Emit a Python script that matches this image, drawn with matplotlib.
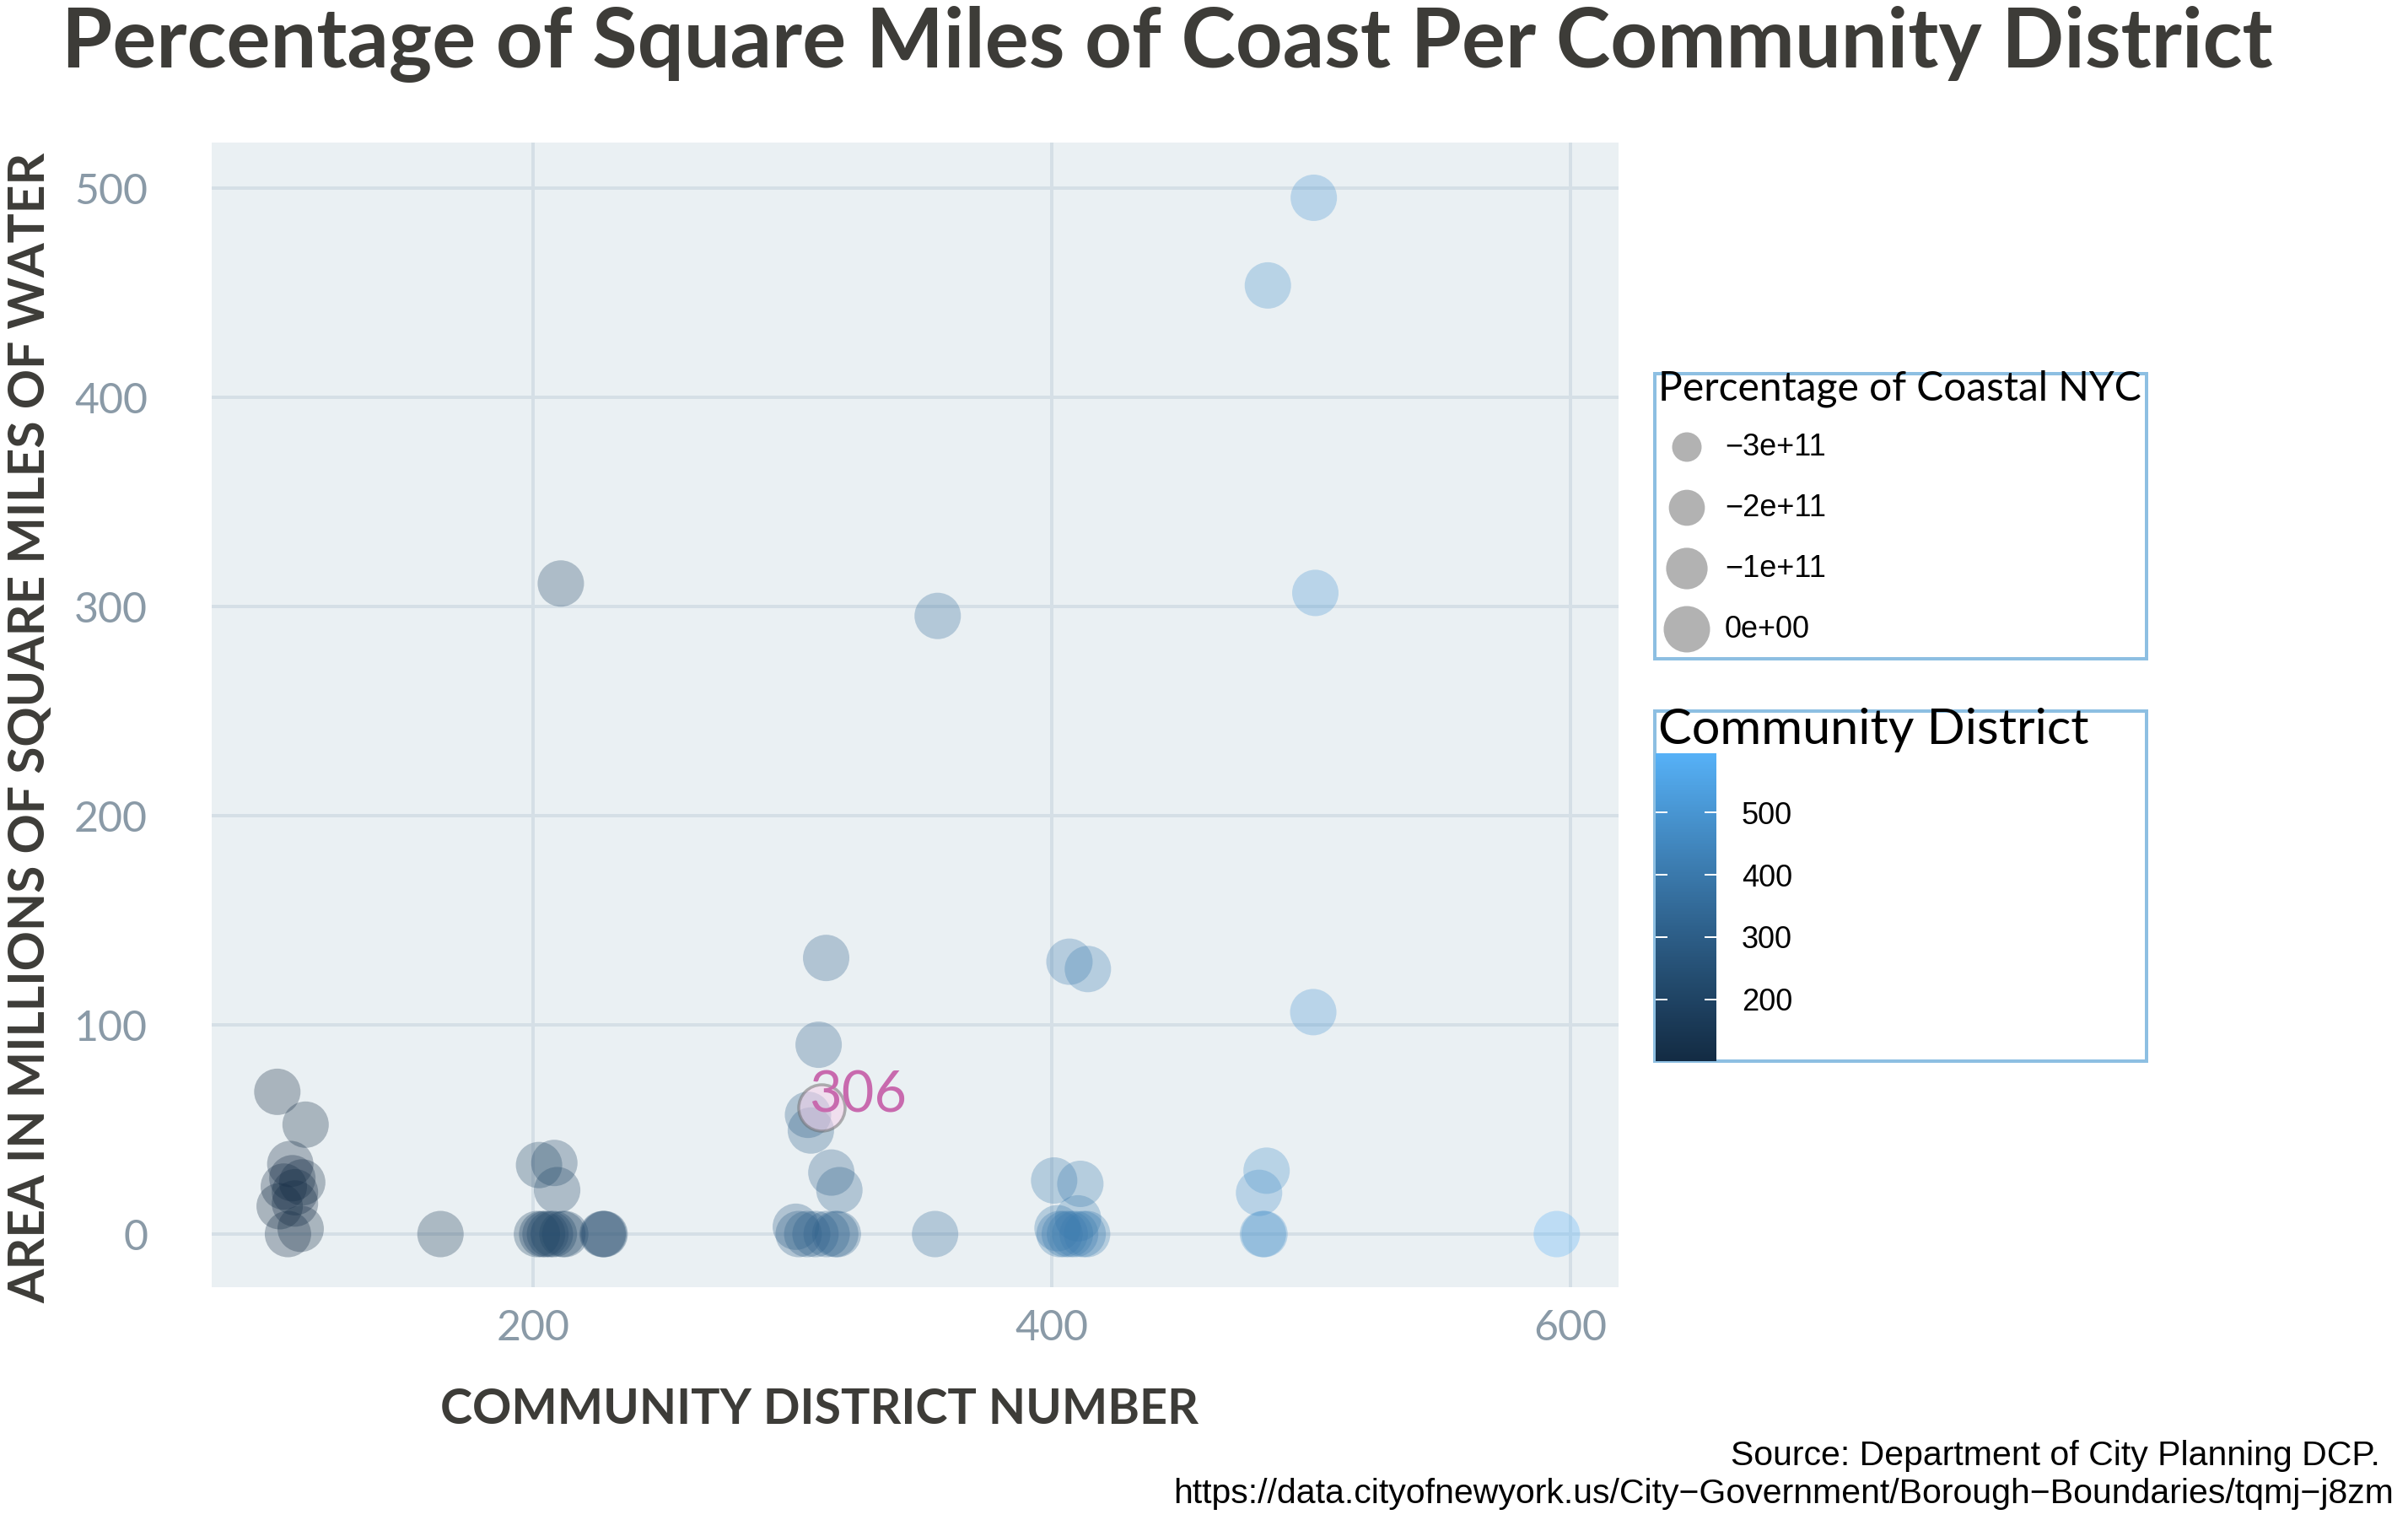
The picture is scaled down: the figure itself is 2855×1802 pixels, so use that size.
import numpy as np
import matplotlib
matplotlib.use("Agg")
import matplotlib.pyplot as plt
from matplotlib.colors import ListedColormap, Normalize
from matplotlib.cm import ScalarMappable
from matplotlib.patches import Rectangle

# ---------------- data ----------------
manhattan_cd = [101.4, 112.3, 106.4, 107.2, 103.9, 111.0, 108.2, 102.3, 108.2, 105.5, 110.4, 164.3]
manhattan_water = [68.0, 52.3, 33.5, 26.7, 22.7, 24.7, 20.0, 13.3, 14.6, 0.0, 2.5, 0.0]

bronx_cd = [202.3, 208.2, 209.3, 210.7, 201.5, 203.5, 204.8, 206.5, 208.0, 211.3, 212.4, 226.8, 227.2, 227.6]
bronx_water = [33.0, 34.0, 21.0, 311.0, 0.0, 0.0, 0.0, 0.0, 0.0, 0.0, 0.0, 0.0, 0.0, 0.0]

brooklyn_cd = [313.0, 310.1, 306.0, 307.1, 315.0, 318.1, 301.3, 302.4, 305.7, 308.9, 313.2, 316.5, 317.5, 355.0, 356.0]
brooklyn_water = [132.0, 90.5, 57.0, 49.5, 29.4, 21.0, 3.5, 0.0, 0.0, 0.0, 0.0, 0.0, 0.0, 0.0, 295.5]

queens_cd = [406.8, 413.9, 400.9, 411.0, 410.1, 402.2, 403.0, 405.0, 407.0, 409.0, 411.9, 413.6,
             482.8, 479.9, 481.4, 482.0, 483.3]
queens_water = [130.2, 126.7, 25.6, 24.0, 7.5, 2.8, 0.0, 0.0, 0.0, 0.0, 0.0, 0.0,
                30.3, 19.7, 0.0, 0.0, 453.5]

staten_cd = [501.0, 501.6, 500.8, 594.7]
staten_water = [495.4, 306.5, 106.1, 0.0]

highlight_label = "306"
highlight_cd = 311.1
highlight_water = 60.6

x_ticks = [200, 400, 600]
y_ticks = [0, 100, 200, 300, 400, 500]
cbar_ticks = [200, 300, 400, 500]
cd_min, cd_max = 101, 595

size_breaks = [-3e11, -2e11, -1e11, 0.0]
size_labels = ["\u22123e+11", "\u22122e+11", "\u22121e+11", "0e+00"]

title = "Percentage of Square Miles of Coast Per Community District"
x_title = "COMMUNITY DISTRICT NUMBER"
y_title = "AREA IN MILLIONS OF SQUARE MILES OF WATER"
size_title = "Percentage of Coastal NYC"
color_title = "Community District"
source1 = "Source: Department of City Planning DCP."
source2 = "https://data.cityofnewyork.us/City\u2212Government/Borough\u2212Boundaries/tqmj\u2212j8zm"

# ---------------- colour scale (ggplot default, Lab interpolation) ----------------
_M = np.array([[0.4124, 0.3576, 0.1805], [0.2126, 0.7152, 0.0722], [0.0193, 0.1192, 0.9505]])
_WHITE = np.array([0.95047, 1.0, 1.08883])


def _srgb_to_lab(hexc):
    c = np.array([int(hexc[i:i + 2], 16) / 255 for i in (1, 3, 5)])
    lin = np.where(c <= 0.04045, c / 12.92, ((c + 0.055) / 1.055) ** 2.4)
    xyz = _M @ lin / _WHITE
    d = 6 / 29
    f = np.where(xyz > d ** 3, np.cbrt(xyz), xyz / (3 * d * d) + 4 / 29)
    return np.array([116 * f[1] - 16, 500 * (f[0] - f[1]), 200 * (f[1] - f[2])])


def _lab_to_srgb(lab):
    L, a, b = lab
    fy_ = (L + 16) / 116
    f = np.array([fy_ + a / 500, fy_, fy_ - b / 200])
    d = 6 / 29
    xyz = np.where(f > d, f ** 3, 3 * d * d * (f - 4 / 29)) * _WHITE
    lin = np.clip(np.linalg.inv(_M) @ xyz, 0, 1)
    c = np.where(lin <= 0.0031308, 12.92 * lin, 1.055 * lin ** (1 / 2.4) - 0.055)
    return np.clip(c, 0, 1)


lo, hi = _srgb_to_lab("#132B43"), _srgb_to_lab("#56B1F7")
cmap = ListedColormap([_lab_to_srgb(lo + t * (hi - lo)) for t in np.linspace(0, 1, 256)])
norm = Normalize(cd_min, cd_max)

# ---------------- figure ----------------
W, H, DPI = 2855, 1802, 100
fig = plt.figure(figsize=(W / DPI, H / DPI), dpi=DPI, facecolor="white")
renderer = fig.canvas.get_renderer()


def fx(px):
    return px / W


def fy(py):
    return 1 - py / H


def pt(px):
    return px * 72 / DPI


TEXT_DARK = "#3D3C38"
TICK_COL = "#8A9AA7"

# main panel
ax = fig.add_axes([fx(251), fy(1526), (1919 - 251) / W, (1526 - 169) / H])
ax.set_facecolor("#EAF0F3")
for s in ax.spines.values():
    s.set_visible(False)
ax.set_xlim(76.1, 618.5)
ax.set_ylim(-25.4, 521.8)
ax.set_xticks(x_ticks)
ax.set_yticks(y_ticks)
ax.grid(True, color="#D5DFE6", linewidth=pt(4))
ax.set_axisbelow(True)
ax.tick_params(length=0, labelcolor=TICK_COL, labelsize=36)
ax.tick_params(axis="x", pad=pt(26))
ax.tick_params(axis="y", pad=pt(76))
for lab in ax.get_xticklabels() + ax.get_yticklabels():
    lab.set_family("Lato")
    lab.set_fontweight("normal")

all_x = np.array(manhattan_cd + bronx_cd + brooklyn_cd + queens_cd + staten_cd)
all_y = np.array(manhattan_water + bronx_water + brooklyn_water + queens_water + staten_water)

d_max = pt(55)
ax.scatter(all_x, all_y, s=d_max ** 2, c=all_x, cmap=cmap, norm=norm, alpha=0.3,
           linewidths=0, zorder=3)

# highlighted district
ax.scatter([highlight_cd], [highlight_water], s=d_max ** 2, facecolor=(0.96, 0.82, 0.92, 0.55),
           edgecolor=(0.42, 0.42, 0.42, 0.5), linewidths=pt(3.5), zorder=4)
ax.annotate(highlight_label, (highlight_cd, highlight_water), xytext=(pt(43), pt(13)),
            textcoords="offset points", ha="center", va="center", color="#C86AAE",
            fontsize=48, family="Lato", fontweight="normal", zorder=5)


# ---------------- texts ----------------
def fit_text(x, y, s, target, rotation=0, **kw):
    t = fig.text(x, y, s, fontsize=20, rotation=rotation, **kw)
    bb = t.get_window_extent(renderer)
    size = bb.height if rotation == 90 else bb.width
    t.set_fontsize(20 * target / size)
    return t


fit_text(fx(73), fy(80), title, 2622, ha="left", va="baseline", color=TEXT_DARK,
         family="Lato", fontweight="bold")
fit_text(fx(972), fy(1688), x_title, 899, ha="center", va="baseline", color=TEXT_DARK,
         family="Lato", fontweight="bold")
fit_text(fx(36), fy(863), y_title, 1362, rotation=90, ha="center", va="center", color=TEXT_DARK,
         family="Lato", fontweight="bold")

SRC_FAM = ["Liberation Sans Narrow", "Liberation Sans", "DejaVu Sans"]
t2 = fit_text(fx(2838), fy(1782), source2, 1445, ha="right", va="baseline", color="black",
              family=SRC_FAM)
fig.text(fx(2822), fy(1737), source1, ha="right", va="baseline", color="black",
         fontsize=t2.get_fontsize(), family=SRC_FAM)

# ---------------- legends ----------------
ov = fig.add_axes([0, 0, 1, 1], facecolor="none")
ov.set_xlim(0, W)
ov.set_ylim(H, 0)
ov.axis("off")
BOX_COL = "#8DBFE2"
ov.add_patch(Rectangle((1962, 443), 583, 338, facecolor="white", edgecolor=BOX_COL,
                       linewidth=pt(4), zorder=1))
ov.add_patch(Rectangle((1962, 843), 583, 415, facecolor="white", edgecolor=BOX_COL,
                       linewidth=pt(4), zorder=1))

fit_text(fx(1966), fy(475), size_title, 575, ha="left", va="baseline", color="black",
         family="Lato")
fit_text(fx(1966), fy(882), color_title, 512, ha="left", va="baseline", color="black",
         family="Lato")

# size keys: area linear in value between 35px and 55px diameters
d_lo, d_hi = pt(35), pt(55)
sb = np.array(size_breaks)
areas = d_lo ** 2 + (sb - sb.min()) / (sb.max() - sb.min()) * (d_hi ** 2 - d_lo ** 2)
key_y = [530, 602, 674, 746]
ov.scatter([2000] * len(sb), key_y, s=areas, color="black", alpha=0.3, linewidths=0, zorder=2)
for yk, lab in zip(key_y, size_labels):
    ov.text(2045, yk, lab, ha="left", va="center", fontsize=26, color="black",
            family=["Liberation Sans", "DejaVu Sans"], zorder=3)

# colour bar
cax = fig.add_axes([fx(1963), fy(1258), 72 / W, (1258 - 893) / H])
cb = fig.colorbar(ScalarMappable(norm=norm, cmap=cmap), cax=cax, ticks=cbar_ticks)
cb.outline.set_visible(False)
cb.minorticks_off()
cax.tick_params(which="both", direction="in", length=pt(14), width=pt(2), color="white",
                left=True, right=True, labelleft=False, labelright=True, labelsize=26,
                pad=pt(30), labelcolor="black")
for lab in cax.get_yticklabels():
    lab.set_family("Liberation Sans")

fig.savefig("out.png", dpi=DPI, facecolor="white")
